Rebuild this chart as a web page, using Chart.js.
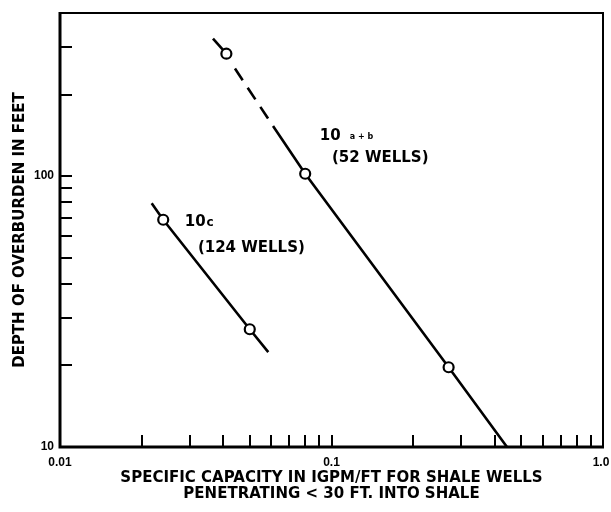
<!DOCTYPE html>
<html>
<head>
<meta charset="utf-8">
<script src="https://cdn.jsdelivr.net/npm/chart.js@4.4.1/dist/chart.umd.min.js"></script>
<style>
  html, body { margin: 0; padding: 0; background: #fff; }
  #wrap { width: 611px; height: 512px; }
</style>
</head>
<body>
<div id="wrap"><canvas id="capacityChart" width="611" height="512"></canvas></div>
<script>
// wells sampled per group: specific capacity (igpm/ft) vs depth of overburden (ft)
const capAB = [0.041, 0.080, 0.270];
const depthAB = [283, 102, 19.7];
const capC = [0.024, 0.050];
const depthC = [69, 27.2];

// fitted lines through each group (first part of 10 a+b is dashed)
const fitABcap = [0.0366, 0.041, 0.0441, 0.0609, 0.080, 0.270, 0.443];
const fitABdepth = [322, 283, 249.5, 153, 102, 19.7, 10];
const fitCcap = [0.02176, 0.024, 0.050, 0.0585];
const fitCdepth = [79.4, 69, 27.2, 22.4];

// axis ticks and labels
const xMinorTicks = [0.02, 0.03, 0.04, 0.05, 0.06, 0.07, 0.08, 0.09, 0.1, 0.2, 0.3, 0.4, 0.5, 0.6, 0.7, 0.8, 0.9];
const yMinorTicks = [20, 30, 40, 50, 60, 70, 80, 90, 100, 200, 300];
const xLabelValues = [0.01, 0.1, 1];
const xLabelText = ["0.01", "0.1", "1.0"];
const yLabelValues = [10, 100];
const yLabelText = ["10", "100"];

const xTitle = ["SPECIFIC CAPACITY IN IGPM/FT FOR SHALE WELLS", "PENETRATING < 30 FT. INTO SHALE"];
const yTitle = "DEPTH OF OVERBURDEN IN FEET";

// group labels, anchored at data coordinates
const groupNames = ["10", "10"];
const groupSubs = ["a+b", "c"];
const groupCounts = ["(52 WELLS)", "(124 WELLS)"];
const nameAt = [[0.0906, 142.7], [0.0288, 68.9]];
const countAt = [[0.1004, 118.5], [0.0322, 55.4]];

const toPoints = (xs, ys) => xs.map((x, i) => ({ x: x, y: ys[i] }));

const TITLE_FONT = "bold 15px 'DejaVu Sans'";
const TICK_FONT = "bold 12px 'Liberation Sans'";

const framePlugin = {
    id: "frame",
    afterDraw(chart) {
        const ctx = chart.ctx;
        const a = chart.chartArea;
        const xs = chart.scales.x;
        const ys = chart.scales.y;
        ctx.save();
        ctx.strokeStyle = "#000";
        ctx.lineCap = "butt";

        // box round the plot: heavier on left and bottom
        ctx.lineWidth = 2;
        ctx.beginPath();
        ctx.moveTo(a.left, a.top);
        ctx.lineTo(a.right, a.top);
        ctx.lineTo(a.right, a.bottom);
        ctx.stroke();
        ctx.lineWidth = 3;
        ctx.beginPath();
        ctx.moveTo(a.left, a.top - 1);
        ctx.lineTo(a.left, a.bottom);
        ctx.lineTo(a.right + 1, a.bottom);
        ctx.stroke();

        // inward tick marks
        ctx.lineWidth = 2;
        ctx.beginPath();
        xMinorTicks.forEach(v => {
            const px = Math.round(xs.getPixelForValue(v));
            ctx.moveTo(px, a.bottom);
            ctx.lineTo(px, a.bottom - 12);
        });
        yMinorTicks.forEach(v => {
            const py = Math.round(ys.getPixelForValue(v));
            ctx.moveTo(a.left, py);
            ctx.lineTo(a.left + 12, py);
        });
        ctx.stroke();

        // tick labels
        ctx.fillStyle = "#000";
        ctx.font = TICK_FONT;
        ctx.textAlign = "center";
        ctx.textBaseline = "top";
        xLabelValues.forEach((v, i) => {
            let px = xs.getPixelForValue(v);
            if (i === xLabelValues.length - 1) px -= 2;
            ctx.fillText(xLabelText[i], px, a.bottom + 10);
        });
        ctx.textAlign = "right";
        ctx.textBaseline = "middle";
        yLabelValues.forEach((v, i) => {
            ctx.fillText(yLabelText[i], a.left - 6, ys.getPixelForValue(v));
        });

        // axis titles
        ctx.font = TITLE_FONT;
        ctx.textAlign = "center";
        ctx.textBaseline = "middle";
        const cx = (a.left + a.right) / 2;
        ctx.fillText(xTitle[0], cx, a.bottom + 31);
        ctx.fillText(xTitle[1], cx, a.bottom + 47);
        ctx.save();
        ctx.translate(20, (a.top + a.bottom) / 2);
        ctx.rotate(-Math.PI / 2);
        ctx.fillText(yTitle, 0, 0);
        ctx.restore();

        // group labels
        ctx.textAlign = "left";
        ctx.textBaseline = "alphabetic";
        groupNames.forEach((name, i) => {
            const nx = xs.getPixelForValue(nameAt[i][0]);
            const ny = ys.getPixelForValue(nameAt[i][1]) + 6;
            ctx.font = "bold 15px 'DejaVu Sans'";
            ctx.fillText(name, nx, ny);
            const w = ctx.measureText(name).width;
            if (groupSubs[i] === "c") {
                ctx.font = "bold 12px 'DejaVu Sans'";
                ctx.fillText(groupSubs[i], nx + w + 1, ny);
            } else {
                ctx.font = "bold 8px 'DejaVu Sans'";
                ctx.fillText("a + b", nx + w + 9, ny - 1);
            }
            ctx.font = "bold 15px 'DejaVu Sans'";
            ctx.fillText(groupCounts[i], xs.getPixelForValue(countAt[i][0]), ys.getPixelForValue(countAt[i][1]) + 6);
        });
        ctx.restore();
    }
};

// segment 1 sits under the circle edge (hidden), segment 2 is dashed
const abSegment = {
    borderColor: c => (c.p0DataIndex === 1 ? "rgba(0,0,0,0)" : "#000"),
    borderDash: c => (c.p0DataIndex === 2 ? [14, 9] : [])
};

new Chart(document.getElementById("capacityChart"), {
    type: "scatter",
    data: {
        datasets: [
            {
                label: "10 a+b wells",
                data: toPoints(capAB, depthAB),
                pointRadius: 5,
                pointBorderWidth: 2.2,
                pointBackgroundColor: "#fff",
                pointBorderColor: "#000"
            },
            {
                label: "10c wells",
                data: toPoints(capC, depthC),
                pointRadius: 5,
                pointBorderWidth: 2.2,
                pointBackgroundColor: "#fff",
                pointBorderColor: "#000"
            },
            {
                label: "10 a+b fit",
                data: toPoints(fitABcap, fitABdepth),
                showLine: true,
                pointRadius: 0,
                borderColor: "#000",
                borderWidth: 2.6,
                segment: abSegment
            },
            {
                label: "10c fit",
                data: toPoints(fitCcap, fitCdepth),
                showLine: true,
                pointRadius: 0,
                borderColor: "#000",
                borderWidth: 2.6
            }
        ]
    },
    options: {
        responsive: false,
        animation: false,
        layout: { padding: { left: 60, right: 8, top: 13, bottom: 65 } },
        plugins: {
            legend: { display: false },
            tooltip: { enabled: false }
        },
        scales: {
            x: { type: "logarithmic", min: 0.01, max: 1, display: false },
            y: { type: "logarithmic", min: 10, max: 400, display: false }
        }
    },
    plugins: [framePlugin]
});
</script>
</body>
</html>
